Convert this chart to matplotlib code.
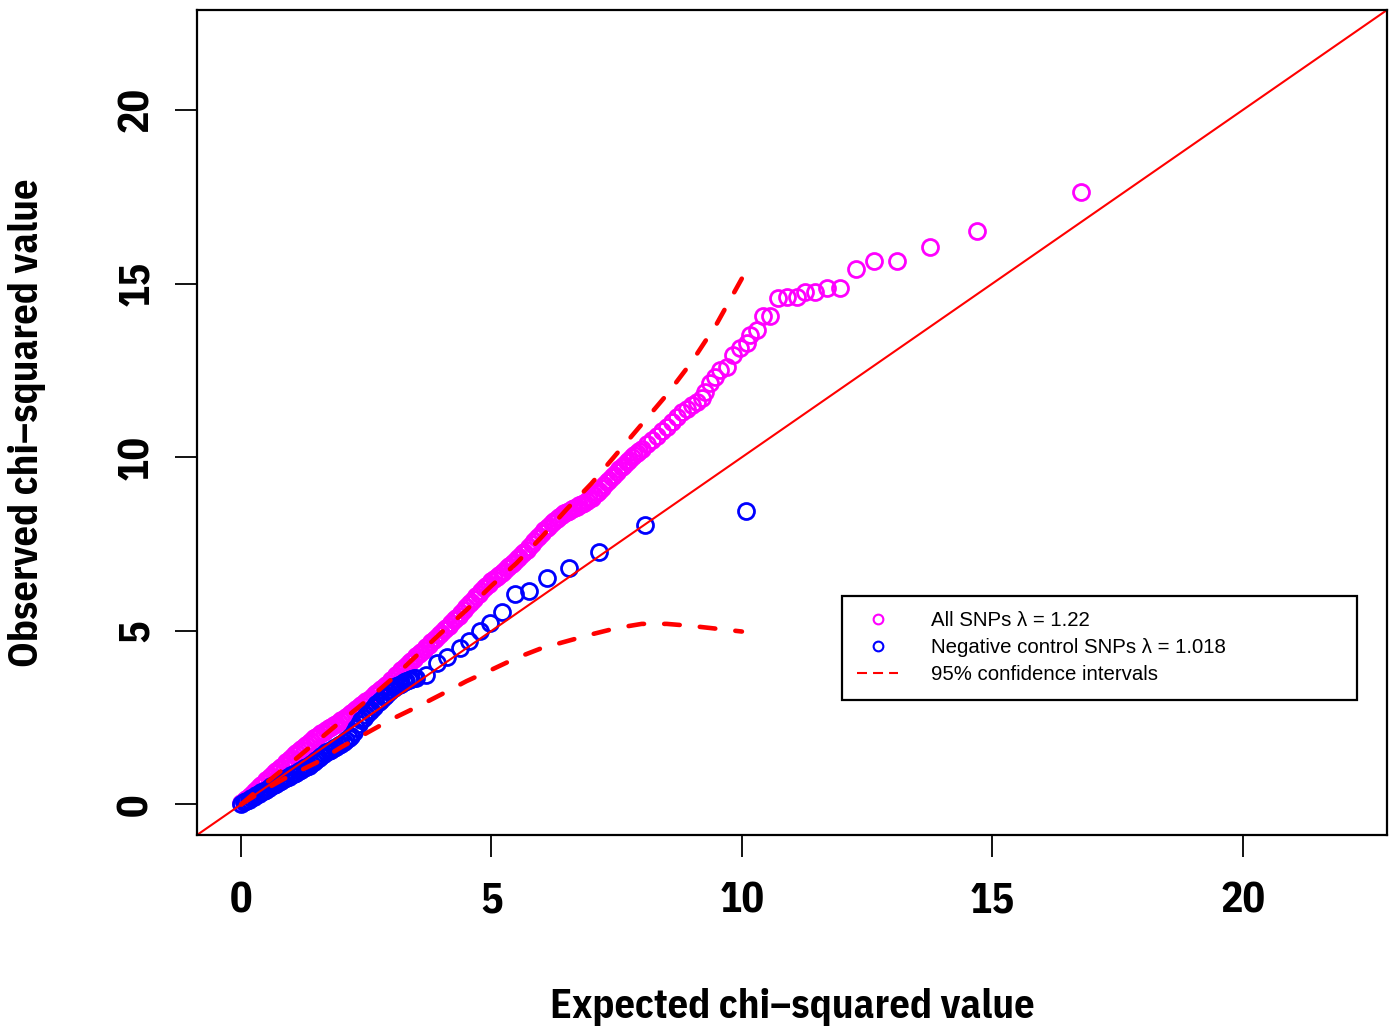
import matplotlib
matplotlib.use("Agg")
import matplotlib.pyplot as plt
from matplotlib.lines import Line2D

# observed vs expected chi-squared values
all_exp = [0.00, 0.05, 0.10, 0.15, 0.20, 0.25, 0.30, 0.35, 0.40, 0.45,
           0.50, 0.55, 0.60, 0.65, 0.70, 0.75, 0.80, 0.85, 0.90, 0.95,
           1.00, 1.05, 1.10, 1.15, 1.20, 1.25, 1.30, 1.35, 1.40, 1.45,
           1.50, 1.55, 1.60, 1.65, 1.70, 1.75, 1.80, 1.85, 1.90, 1.95,
           2.00, 2.05, 2.10, 2.15, 2.20, 2.25, 2.30, 2.35, 2.40, 2.45,
           2.50, 2.55, 2.60, 2.65, 2.70, 2.75, 2.80, 2.85, 2.90, 2.95,
           3.00, 3.05, 3.10, 3.15, 3.20, 3.25, 3.30, 3.35, 3.40, 3.45,
           3.50, 3.55, 3.60, 3.65, 3.70, 3.75, 3.80, 3.85, 3.90, 3.95,
           4.00, 4.05, 4.10, 4.15, 4.20, 4.25, 4.30, 4.35, 4.40, 4.45,
           4.50, 4.55, 4.60, 4.65, 4.70, 4.75, 4.80, 4.85, 4.90, 4.95,
           5.00, 5.05, 5.10, 5.15, 5.20, 5.25, 5.30, 5.35, 5.40, 5.45,
           5.50, 5.55, 5.60, 5.65, 5.70, 5.75, 5.80, 5.85, 5.90, 5.95,
           6.00, 6.05, 6.10, 6.15, 6.20, 6.25, 6.30, 6.35, 6.40, 6.45,
           6.50, 6.55, 6.60, 6.65, 6.70, 6.75, 6.80, 6.85, 6.90, 6.95,
           7.00, 7.05, 7.10, 7.15, 7.20, 7.25, 7.30, 7.35, 7.40, 7.45,
           7.50, 7.55, 7.60, 7.65, 7.70, 7.75, 7.80, 7.85, 7.90, 7.95,
           8.00, 8.10, 8.20, 8.30, 8.40, 8.50, 8.60, 8.70, 8.80, 8.90,
           9.00, 9.10, 9.20, 9.26, 9.36, 9.46, 9.56, 9.70, 9.82, 9.96,
           10.10, 10.16, 10.30, 10.42, 10.56, 10.72, 10.90, 11.09, 11.25, 11.45,
           11.69, 11.95, 12.27, 12.63, 13.10, 13.75, 14.70, 16.77]
all_obs = [0.05, 0.10, 0.15, 0.21, 0.28, 0.35, 0.42, 0.49, 0.56, 0.63,
           0.70, 0.77, 0.83, 0.90, 0.96, 1.02, 1.08, 1.15, 1.22, 1.28,
           1.35, 1.41, 1.47, 1.53, 1.60, 1.66, 1.72, 1.78, 1.84, 1.90,
           1.95, 2.00, 2.05, 2.10, 2.15, 2.20, 2.24, 2.28, 2.33, 2.37,
           2.42, 2.47, 2.53, 2.58, 2.64, 2.70, 2.75, 2.80, 2.86, 2.92,
           2.97, 3.02, 3.08, 3.14, 3.20, 3.26, 3.32, 3.38, 3.45, 3.51,
           3.58, 3.65, 3.72, 3.79, 3.86, 3.93, 4.00, 4.06, 4.13, 4.20,
           4.27, 4.33, 4.40, 4.46, 4.53, 4.60, 4.67, 4.73, 4.80, 4.87,
           4.94, 5.01, 5.08, 5.15, 5.22, 5.30, 5.37, 5.44, 5.52, 5.60,
           5.68, 5.76, 5.84, 5.92, 6.00, 6.07, 6.15, 6.22, 6.30, 6.36,
           6.43, 6.49, 6.55, 6.61, 6.67, 6.73, 6.80, 6.86, 6.93, 6.99,
           7.06, 7.13, 7.20, 7.27, 7.34, 7.42, 7.50, 7.58, 7.66, 7.74,
           7.82, 7.89, 7.96, 8.03, 8.10, 8.16, 8.22, 8.28, 8.33, 8.38,
           8.42, 8.46, 8.50, 8.53, 8.57, 8.61, 8.65, 8.69, 8.74, 8.79,
           8.84, 8.90, 8.97, 9.04, 9.12, 9.20, 9.28, 9.35, 9.43, 9.50,
           9.58, 9.65, 9.72, 9.79, 9.86, 9.93, 10.00, 10.06, 10.12, 10.18,
           10.25, 10.38, 10.50, 10.62, 10.75, 10.88, 11.02, 11.17, 11.30, 11.40,
           11.50, 11.60, 11.72, 11.87, 12.13, 12.30, 12.50, 12.60, 12.94, 13.14,
           13.28, 13.52, 13.66, 14.06, 14.06, 14.58, 14.61, 14.61, 14.76, 14.76,
           14.87, 14.87, 15.42, 15.65, 15.65, 16.05, 16.51, 17.64]

neg_exp = [0.00, 0.05, 0.10, 0.15, 0.20, 0.25, 0.30, 0.35, 0.40, 0.45,
           0.50, 0.55, 0.60, 0.65, 0.70, 0.75, 0.80, 0.85, 0.90, 0.95,
           1.00, 1.05, 1.10, 1.15, 1.20, 1.25, 1.30, 1.35, 1.40, 1.45,
           1.50, 1.55, 1.60, 1.65, 1.70, 1.75, 1.80, 1.85, 1.90, 1.95,
           2.00, 2.05, 2.10, 2.15, 2.20, 2.25, 2.30, 2.35, 2.40, 2.45,
           2.50, 2.55, 2.60, 2.65, 2.70, 2.75, 2.80, 2.85, 2.90, 2.95,
           3.00, 3.05, 3.10, 3.15, 3.20, 3.25, 3.30, 3.35, 3.40, 3.45,
           3.50, 3.69, 3.92, 4.12, 4.38, 4.56, 4.78, 4.98, 5.20, 5.46,
           5.74, 6.10, 6.55, 7.15, 8.07, 10.08]
neg_obs = [0.02, 0.06, 0.10, 0.14, 0.18, 0.22, 0.27, 0.31, 0.35, 0.39,
           0.43, 0.47, 0.52, 0.56, 0.60, 0.64, 0.68, 0.72, 0.76, 0.80,
           0.84, 0.88, 0.92, 0.96, 1.00, 1.04, 1.08, 1.12, 1.16, 1.21,
           1.27, 1.33, 1.40, 1.45, 1.50, 1.54, 1.58, 1.62, 1.66, 1.70,
           1.75, 1.80, 1.85, 1.91, 1.97, 2.08, 2.20, 2.31, 2.42, 2.50,
           2.58, 2.65, 2.72, 2.80, 2.88, 2.95, 3.02, 3.09, 3.15, 3.23,
           3.30, 3.35, 3.40, 3.44, 3.48, 3.52, 3.55, 3.58, 3.60, 3.63,
           3.65, 3.72, 4.06, 4.24, 4.50, 4.70, 4.99, 5.24, 5.53, 6.05,
           6.14, 6.51, 6.80, 7.26, 8.04, 8.44]

ci_exp = [0.0, 0.5, 1.0, 1.5, 2.0, 2.5, 3.0, 3.5, 4.0, 4.5,
          5.0, 5.5, 6.0, 6.5, 7.0, 7.5, 8.0, 8.5, 9.0, 9.5, 10.0]
ci_upper = [0.0, 0.62, 1.2, 1.8, 2.4, 2.98, 3.6, 4.28, 4.95, 5.6,
            6.3, 6.95, 7.7, 8.5, 9.25, 10.1, 10.95, 11.8, 12.75, 13.85, 15.15]
ci_lower = [0.0, 0.45, 0.85, 1.2, 1.65, 2.05, 2.45, 2.8, 3.17, 3.55,
            3.88, 4.22, 4.5, 4.7, 4.9, 5.08, 5.2, 5.2, 5.14, 5.06, 4.98]

legend_labels = ["All SNPs λ = 1.22",
                 "Negative control SNPs λ = 1.018",
                 "95% confidence intervals"]

bold = dict(family=["IBM Plex Sans Condensed", "Liberation Sans"], weight=700)

fig = plt.figure(figsize=(13.96, 10.28), dpi=100)
ax = fig.add_axes([197 / 1396, 193 / 1028, 1190 / 1396, 825 / 1028])

ax.plot(all_exp, all_obs, linestyle="none", marker="o", markersize=11.5,
        markerfacecolor="none", markeredgecolor="#FF00FF", markeredgewidth=2.0)
ax.plot(neg_exp, neg_obs, linestyle="none", marker="o", markersize=11.5,
        markerfacecolor="none", markeredgecolor="#0000FF", markeredgewidth=2.0)
ax.axline((0, 0), slope=1, color="#FF0000", linewidth=1.5)
for ci in (ci_upper, ci_lower):
    ax.plot(ci_exp, ci, color="#FF0000", linewidth=3.3, dashes=(3.4, 4.4),
            dash_capstyle="round")

ax.set_xlim(-0.88, 22.88)
ax.set_ylim(-0.88, 22.88)
ticks = [0, 5, 10, 15, 20]
ax.set_xticks(ticks)
ax.set_yticks(ticks)
ax.set_xticklabels([str(t) for t in ticks], fontsize=30, **bold)
ax.set_yticklabels([str(t) for t in ticks], fontsize=30, rotation=90, va="center", **bold)
ax.tick_params(axis="both", direction="out", length=16, width=1.3)
ax.tick_params(axis="x", pad=17)
ax.tick_params(axis="y", pad=13)
for s in ax.spines.values():
    s.set_linewidth(1.6)

ax.set_xlabel("Expected chi\u2013squared value", fontsize=29, va="center", **bold)
ax.set_ylabel("Observed chi\u2013squared value", fontsize=29, va="center", **bold)
ax.xaxis.set_label_coords(0.5, -0.2085)
ax.yaxis.set_label_coords(-0.1429, 0.5)

handles = [
    Line2D([], [], linestyle="none", marker="o", markersize=7, markerfacecolor="none",
           markeredgecolor="#FF00FF", markeredgewidth=1.5),
    Line2D([], [], linestyle="none", marker="o", markersize=7, markerfacecolor="none",
           markeredgecolor="#0000FF", markeredgewidth=1.5),
    Line2D([], [], color="#FF0000", linewidth=1.5, dashes=(4.8, 2.9)),
]
leg = ax.legend(handles, legend_labels, loc="upper left",
                bbox_to_anchor=(0.542, 0.165, 0.433, 0.125), mode="expand",
                prop=dict(family="Liberation Sans", size=14.7),
                frameon=True, fancybox=False, framealpha=1, edgecolor="black",
                borderpad=0.75, labelspacing=0.4, handlelength=2.0,
                handletextpad=1.6, borderaxespad=0)
leg.get_frame().set_linewidth(1.6)

fig.savefig("out.png", dpi=100)
